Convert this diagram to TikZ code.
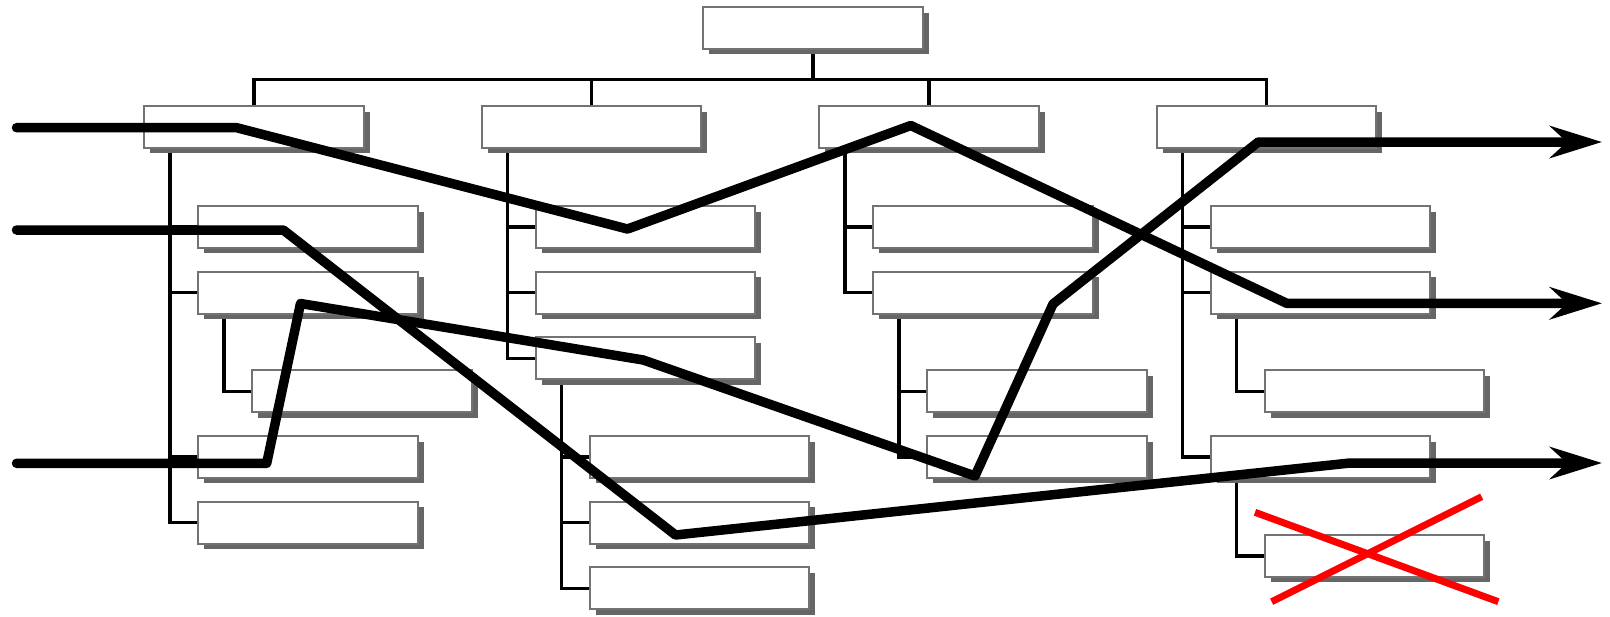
\documentclass[tikz,border=0pt]{standalone}
\usepackage{tikz}
\usetikzlibrary{arrows.meta,shadows,backgrounds}

\begin{document}
\begin{tikzpicture}[x=0.02cm,y=-0.02cm,
  box/.style={rectangle,draw=black!55,line width=0.04cm,fill=white,anchor=north west,
    minimum width=4.4cm,minimum height=0.84cm,inner sep=0pt,
    drop shadow={shadow xshift=0.12cm,shadow yshift=-0.11cm,fill=black!60,opacity=1}},
  branch/.style={line width=0.065cm},
  flow/.style={line width=0.19cm,line cap=round,line join=round},
  strike/.style={line width=0.14cm,red}]
\useasboundingbox (0,0) rectangle (1610,616);

\node [box] (root) at (702,6) {};
\node [box] (a) at (143,105) {};
\node [box] (b) at (480.5,105) {};
\node [box] (c) at (818,105) {};
\node [box] (d) at (1155.5,105) {};

\node [box] (a1) at (197,205) {};
\node [box] (a2) at (197,270.6) {};
\node [box] (a21) at (251,369.3) {};
\node [box] (a3) at (197,435) {};
\node [box] (a4) at (197,500.6) {};

\node [box] (b1) at (534.5,205) {};
\node [box] (b2) at (534.5,270.6) {};
\node [box] (b3) at (534.5,336.2) {};
\node [box] (b31) at (588.5,435) {};
\node [box] (b32) at (588.5,500.6) {};
\node [box] (b33) at (588.5,566.2) {};

\node [box] (c1) at (872,205) {};
\node [box] (c2) at (872,270.6) {};
\node [box] (c21) at (926,369.3) {};
\node [box] (c22) at (926,435) {};

\node [box] (d1) at (1209.5,205) {};
\node [box] (d2) at (1209.5,270.6) {};
\node [box] (d21) at (1263.5,369.3) {};
\node [box] (d3) at (1209.5,435) {};
\node [box] (d31) at (1263.5,534) {};

\coordinate (bus) at (0,79.3);
\begin{scope}[on background layer]
\draw [branch] (root.south) -- (root.south |- bus);
\draw [branch] (a.north) |- (d.north |- bus) -- (d.north);
\draw [branch] (b.north) -- (b.north |- bus);
\draw [branch] (c.north) -- (c.north |- bus);

\draw [branch] ([xshift=0.54cm]a.south west) |- (a1.west);
\draw [branch] ([xshift=0.54cm]a.south west) |- (a2.west);
\draw [branch] ([xshift=0.54cm]a.south west) |- (a3.west);
\draw [branch] ([xshift=0.54cm]a.south west) |- (a4.west);
\draw [branch] ([xshift=0.54cm]a2.south west) |- (a21.west);

\draw [branch] ([xshift=0.54cm]b.south west) |- (b1.west);
\draw [branch] ([xshift=0.54cm]b.south west) |- (b2.west);
\draw [branch] ([xshift=0.54cm]b.south west) |- (b3.west);
\draw [branch] ([xshift=0.54cm]b3.south west) |- (b31.west);
\draw [branch] ([xshift=0.54cm]b3.south west) |- (b32.west);
\draw [branch] ([xshift=0.54cm]b3.south west) |- (b33.west);

\draw [branch] ([xshift=0.54cm]c.south west) |- (c1.west);
\draw [branch] ([xshift=0.54cm]c.south west) |- (c2.west);
\draw [branch] ([xshift=0.54cm]c2.south west) |- (c21.west);
\draw [branch] ([xshift=0.54cm]c2.south west) |- (c22.west);

\draw [branch] ([xshift=0.54cm]d.south west) |- (d1.west);
\draw [branch] ([xshift=0.54cm]d.south west) |- (d2.west);
\draw [branch] ([xshift=0.54cm]d.south west) |- (d3.west);
\draw [branch] ([xshift=0.54cm]d2.south west) |- (d21.west);
\draw [branch] ([xshift=0.54cm]d3.south west) |- (d31.west);
\end{scope}

\draw [flow,-{Stealth[length=1.04cm,width=0.64cm,inset=0.34cm]}] (16.5,127.7) -- (236.7,127.7) -- (627.5,229) -- (910.8,125.5) -- (1286.7,303.3) -- (1602,303.3);
\draw [flow,-{Stealth[length=1.04cm,width=0.64cm,inset=0.34cm]}] (16.5,230) -- (283.3,230) -- (675.5,535) -- (1350,463) -- (1602,463);
\draw [flow,-{Stealth[length=1.04cm,width=0.64cm,inset=0.34cm]}] (16.5,463.3) -- (266.7,463.3) -- (300.5,303.5) -- (643.3,360) -- (975,476) -- (1053,304) -- (1258.3,142) -- (1602,142);

\draw [strike] (1255,512.3) -- (1498.3,601.7);
\draw [strike] (1271.7,601.7) -- (1481.7,496.7);
\end{tikzpicture}
\end{document}
